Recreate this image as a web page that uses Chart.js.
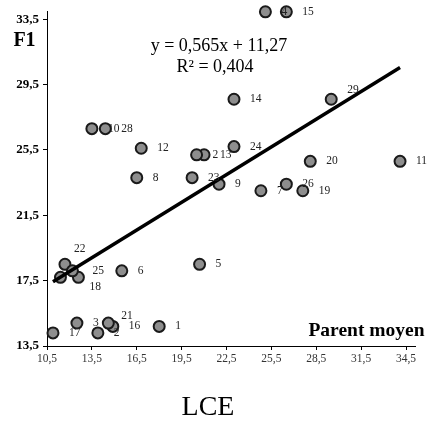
<!DOCTYPE html>
<html>
<head>
<meta charset="utf-8">
<script src="https://cdn.jsdelivr.net/npm/chart.js@4"></script>
<style>
  html, body { margin: 0; padding: 0; background: #fff; }
</style>
</head>
<body>
<canvas id="myChart" width="432" height="422"></canvas>
<script>
// Parent moyen (LCE) vs F1, one point per cross
const pointLabels = ['1', '2', '3', '4', '5', '6', '7', '8', '9', '10',
  '11', '12', '13', '14', '15', '16', '17', '18', '19', '20',
  '21', '22', '23', '24', '25', '26', '28', '29', '', '2'];
const lceX = [18.0, 13.9, 12.5, 25.1, 20.7, 15.5, 24.8, 16.5, 22.0, 13.5,
  34.1, 16.8, 21.0, 23.0, 26.5, 14.9, 10.9, 12.6, 27.6, 28.1,
  14.6, 11.7, 20.2, 23.0, 12.2, 26.5, 14.4, 29.5, 11.4, 20.5];
const f1Y = [14.7, 14.3, 14.9, 33.95, 18.5, 18.1, 23.0, 23.8, 23.4, 26.8,
  24.8, 25.6, 25.2, 28.6, 33.95, 14.7, 14.3, 17.7, 23.0, 24.8,
  14.9, 18.5, 23.8, 25.7, 18.1, 23.4, 26.8, 28.6, 17.7, 25.2];

const xTicks = [10.5, 13.5, 16.5, 19.5, 22.5, 25.5, 28.5, 31.5, 34.5];
const yTicks = [13.5, 17.5, 21.5, 25.5, 29.5, 33.5];

// regression shown on the chart
const slope = 0.565;
const intercept = 11.27;
const r2 = 0.404;

// a few labels sit off their usual spot
const labelNudge = { '29': [0, -9], '22': [-7, -15], '18': [-5, 10], '21': [-3, -7], '25': [4, 0] };

const serif = "'Liberation Serif', 'DejaVu Serif', serif";
const comma = (v, d) => v.toFixed(d).replace('.', ',');

const points = lceX.map((x, i) => ({ x: x, y: f1Y[i] }));
const xLo = Math.min(...lceX);
const xHi = Math.max(...lceX);
const trend = [
  { x: xLo, y: slope * xLo + intercept },
  { x: xHi, y: slope * xHi + intercept }
];

const pointLabelPlugin = {
  id: 'pointLabels',
  afterDatasetsDraw(chart) {
    const ctx = chart.ctx;
    const meta = chart.getDatasetMeta(1);
    ctx.save();
    ctx.font = '11.5px ' + serif;
    ctx.fillStyle = '#222';
    ctx.textAlign = 'left';
    ctx.textBaseline = 'middle';
    meta.data.forEach((el, i) => {
      const txt = pointLabels[i];
      if (!txt) return;
      const n = labelNudge[txt] || [0, 0];
      ctx.fillText(txt, el.x + 16 + n[0], el.y + n[1]);
    });
    ctx.restore();
  }
};

const textPlugin = {
  id: 'chartTexts',
  afterDraw(chart) {
    const ctx = chart.ctx;
    ctx.save();
    ctx.fillStyle = '#000';
    ctx.textAlign = 'center';
    ctx.textBaseline = 'alphabetic';

    ctx.font = 'bold 20px ' + serif;
    ctx.fillText('F1', 24.5, 46);

    ctx.font = '18px ' + serif;
    ctx.fillText('y = ' + comma(slope, 3) + 'x + ' + comma(intercept, 2), 219, 51);
    ctx.fillText('R² = ' + comma(r2, 3), 215, 72);

    ctx.font = 'bold 19.5px ' + serif;
    ctx.fillText('Parent moyen', 366.5, 336);

    ctx.font = '28px ' + serif;
    ctx.fillText('LCE', 208, 415);
    ctx.restore();
  }
};

const ctx = document.getElementById('myChart').getContext('2d');

const mychart = new Chart(ctx, {
  type: 'scatter',
  data: {
    datasets: [{
      type: 'line',
      data: trend,
      borderColor: '#000',
      borderWidth: 3.5,
      pointRadius: 0,
      fill: false,
      order: 0
    }, {
      data: points,
      backgroundColor: '#8e8e8e',
      borderColor: '#1a1a1a',
      borderWidth: 2,
      pointRadius: 5.5,
      clip: false,
      order: 1
    }]
  },
  options: {
    responsive: false,
    animation: false,
    layout: {
      padding: { top: 8, right: 17, left: 0, bottom: 0 }
    },
    plugins: {
      legend: { display: false },
      tooltip: { enabled: false }
    },
    scales: {
      x: {
        type: 'linear',
        min: 10.5,
        max: 35.1,
        afterBuildTicks: (scale) => { scale.ticks = xTicks.map(v => ({ value: v })); },
        afterFit: (scale) => { scale.height = 76; },
        grid: { drawOnChartArea: false, color: '#000', tickLength: 4 },
        border: { color: '#000', width: 1 },
        ticks: {
          autoSkip: false,
          maxRotation: 0,
          padding: 2,
          color: '#333',
          font: { family: serif, size: 11.5 },
          callback: (v) => comma(v, 1)
        }
      },
      y: {
        type: 'linear',
        min: 13.5,
        max: 33.95,
        afterBuildTicks: (scale) => { scale.ticks = yTicks.map(v => ({ value: v })); },
        afterFit: (scale) => { scale.width = 47; },
        grid: { drawOnChartArea: false, color: '#000', tickLength: 4 },
        border: { color: '#000', width: 1 },
        ticks: {
          padding: 4,
          color: '#000',
          font: { family: serif, size: 13, weight: 'bold' },
          callback: (v) => comma(v, 1)
        }
      }
    }
  },
  plugins: [pointLabelPlugin, textPlugin]
});
</script>
</body>
</html>
